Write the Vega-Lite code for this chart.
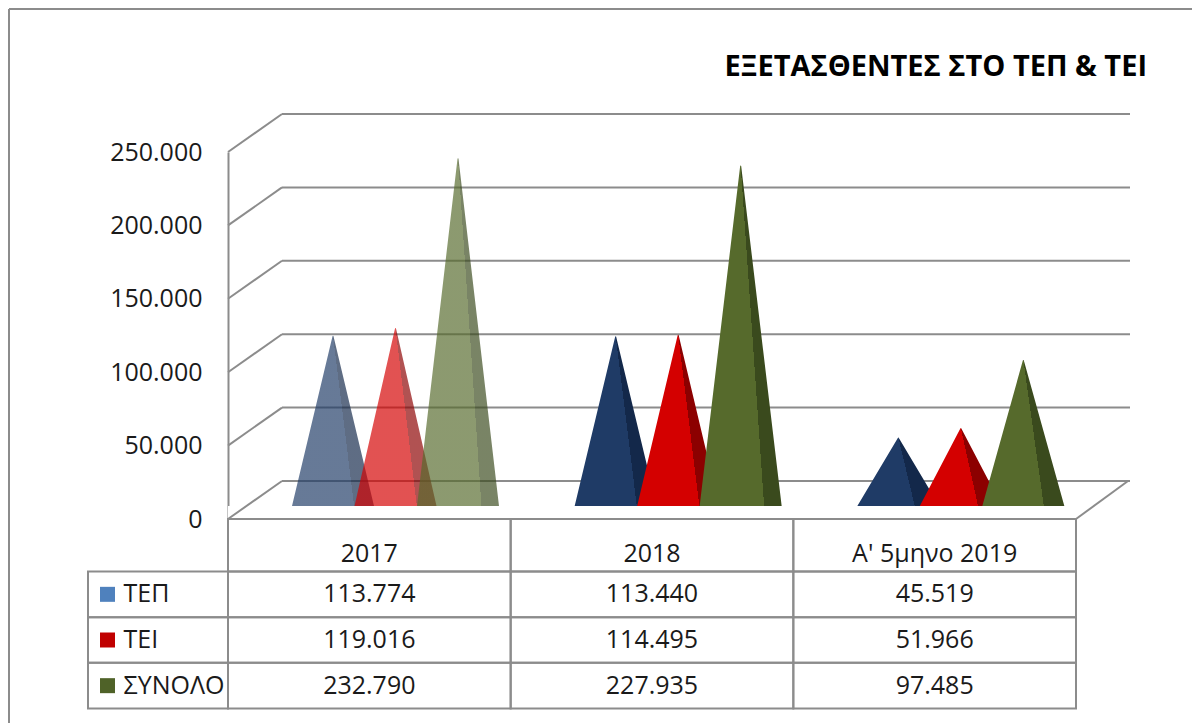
{
  "$schema": "https://vega.github.io/schema/vega-lite/v6.json",
  "width": 1183,
  "height": 714,
  "autosize": {"type": "none"},
  "padding": {"left": 9, "top": 9, "right": 0, "bottom": 0},
  "background": "white",
  "title": {"text": "ΕΞΕΤΑΣΘΕΝΤΕΣ ΣΤΟ ΤΕΠ & ΤΕΙ", "anchor": "end", "frame": "group", "orient": "top", "offset": 0, "baseline": "middle", "dx": -45, "dy": 88, "fontSize": 29, "fontWeight": "bold", "font": "Open Sans", "color": "#000000"},
  "config": {
    "view": {"stroke": null},
    "font": "Open Sans",
    "locale": {"number": {"decimal": ",", "thousands": ".", "grouping": [3], "currency": ["", " €"]}}
  },
  "datasets": {
    "exams": [
      {"year": "2017", "series": "ΤΕΠ", "value": 113774},
      {"year": "2017", "series": "ΤΕΙ", "value": 119016},
      {"year": "2017", "series": "ΣΥΝΟΛΟ", "value": 232790},
      {"year": "2018", "series": "ΤΕΠ", "value": 113440},
      {"year": "2018", "series": "ΤΕΙ", "value": 114495},
      {"year": "2018", "series": "ΣΥΝΟΛΟ", "value": 227935},
      {"year": "Α' 5μηνο 2019", "series": "ΤΕΠ", "value": 45519},
      {"year": "Α' 5μηνο 2019", "series": "ΤΕΙ", "value": 51966},
      {"year": "Α' 5μηνο 2019", "series": "ΣΥΝΟΛΟ", "value": 97485}
    ],
    "ticks": [{"tick": 0}, {"tick": 50000}, {"tick": 100000}, {"tick": 150000}, {"tick": 200000}, {"tick": 250000}]
  },
  "layer": [
    {
      "data": {"values": [{}]},
      "layer": [
        {"mark": {"type": "rule", "color": "#8c8c8c", "strokeWidth": 2}, "encoding": {"x": {"value": 0}, "x2": {"value": 1183}, "y": {"value": 0}}},
        {"mark": {"type": "rule", "color": "#8c8c8c", "strokeWidth": 2}, "encoding": {"x": {"value": 0}, "y": {"value": 0}, "y2": {"value": 714}}}
      ]
    },
    {
      "data": {"name": "ticks"},
      "mark": {"type": "rule", "color": "#8c8c8c", "strokeWidth": 2, "yOffset": -38},
      "encoding": {
        "x": {"value": 273},
        "x2": {"value": 1121},
        "y": {"field": "tick", "type": "quantitative", "scale": {"domain": [0, 250000], "range": [510, 143], "nice": false, "zero": false}, "axis": null}
      }
    },
    {
      "data": {"name": "exams"},
      "transform": [
        {"stack": "value", "groupby": ["year", "series"], "as": ["v0", "v1"]},
        {"fold": ["v0", "v1"], "as": ["end", "v"]}
      ],
      "layer": [
        {
          "transform": [{"filter": "datum.series === 'ΤΕΠ'"}],
          "mark": {"type": "trail", "fill": {"gradient": "linear", "x1": 0.1, "y1": 0.128, "x2": 0.9, "y2": -0.128, "stops": [{"offset": 0, "color": "#1F3B66"}, {"offset": 0.5, "color": "#1F3B66"}, {"offset": 0.5, "color": "#13284A"}, {"offset": 1, "color": "#13284A"}]}, "strokeWidth": 0},
          "encoding": {
            "x": {"field": "year", "type": "nominal", "scale": {"type": "band", "domain": ["2017", "2018", "Α' 5μηνο 2019"], "range": [219, 1067], "paddingInner": 0, "paddingOuter": 0}, "axis": null},
            "xOffset": {"field": "series", "type": "nominal", "scale": {"type": "point", "domain": ["ΤΕΠ", "ΤΕΙ", "ΣΥΝΟΛΟ"], "range": [105, 230], "padding": 0}},
            "y": {"field": "v", "type": "quantitative", "scale": {"domain": [0, 250000], "range": [497, 124], "nice": false, "zero": false}, "axis": null},
            "size": {"condition": {"test": "datum.end === 'v0'", "value": 82}, "value": 0},
            "detail": {"field": "year"},
            "order": {"field": "end", "type": "ordinal"},
            "opacity": {"condition": {"test": "datum.year === '2017'", "value": 0.68}, "value": 1}
          }
        },
        {
          "transform": [{"filter": "datum.series === 'ΤΕΙ'"}],
          "mark": {"type": "trail", "fill": {"gradient": "linear", "x1": 0.1, "y1": 0.128, "x2": 0.9, "y2": -0.128, "stops": [{"offset": 0, "color": "#D40000"}, {"offset": 0.5, "color": "#D40000"}, {"offset": 0.5, "color": "#8C0000"}, {"offset": 1, "color": "#8C0000"}]}, "strokeWidth": 0},
          "encoding": {
            "x": {"field": "year", "type": "nominal"},
            "xOffset": {"field": "series", "type": "nominal"},
            "y": {"field": "v", "type": "quantitative"},
            "size": {"condition": {"test": "datum.end === 'v0'", "value": 82}, "value": 0},
            "detail": {"field": "year"},
            "order": {"field": "end", "type": "ordinal"},
            "opacity": {"condition": {"test": "datum.year === '2017'", "value": 0.68}, "value": 1}
          }
        },
        {
          "transform": [{"filter": "datum.series === 'ΣΥΝΟΛΟ'"}],
          "mark": {"type": "trail", "fill": {"gradient": "linear", "x1": 0.1, "y1": 0.128, "x2": 0.9, "y2": -0.128, "stops": [{"offset": 0, "color": "#566A2C"}, {"offset": 0.5, "color": "#566A2C"}, {"offset": 0.5, "color": "#3A4A1D"}, {"offset": 1, "color": "#3A4A1D"}]}, "strokeWidth": 0},
          "encoding": {
            "x": {"field": "year", "type": "nominal"},
            "xOffset": {"field": "series", "type": "nominal"},
            "y": {"field": "v", "type": "quantitative"},
            "size": {"condition": {"test": "datum.end === 'v0'", "value": 82}, "value": 0},
            "detail": {"field": "year"},
            "order": {"field": "end", "type": "ordinal"},
            "opacity": {"condition": {"test": "datum.year === '2017'", "value": 0.68}, "value": 1}
          }
        }
      ]
    },
    {
      "data": {"name": "exams"},
      "transform": [{"aggregate": [], "groupby": ["year"]}],
      "mark": {"type": "rect", "color": "white", "y2Offset": 53},
      "encoding": {
        "x": {"field": "year", "type": "nominal"},
        "y": {"datum": 0, "type": "quantitative", "scale": {"domain": [0, 250000], "range": [497, 124], "nice": false, "zero": false}, "axis": null},
        "y2": {"datum": 0}
      }
    },
    {
      "layer": [
        {
          "data": {"name": "ticks"},
          "mark": {"type": "rule", "color": "#8c8c8c", "strokeWidth": 2, "y2Offset": -38},
          "encoding": {
            "x": {"value": 219},
            "x2": {"value": 273},
            "y": {"field": "tick", "type": "quantitative", "scale": {"domain": [0, 250000], "range": [510, 143], "nice": false, "zero": false},
              "axis": {"orient": "left", "offset": -219, "title": null, "ticks": false, "tickSize": 0, "labelPadding": 26, "labelFontSize": 25, "labelFont": "Open Sans", "labelColor": "#1a1a1a", "domain": true, "domainColor": "#8c8c8c", "domainWidth": 2, "grid": false, "values": [0, 50000, 100000, 150000, 200000, 250000], "format": ",d"}},
            "y2": {"field": "tick"}
          }
        },
        {
          "data": {"values": [{}]},
          "mark": {"type": "rule", "color": "#8c8c8c", "strokeWidth": 2, "y2Offset": -38},
          "encoding": {
            "x": {"value": 1067},
            "x2": {"value": 1119},
            "y": {"datum": 0, "type": "quantitative"},
            "y2": {"datum": 0}
          }
        },
        {
          "data": {"name": "exams"},
          "transform": [{"aggregate": [], "groupby": ["year"]}],
          "mark": {"type": "rect", "filled": false, "color": "#8c8c8c", "strokeWidth": 2, "y2Offset": 52.5},
          "encoding": {
            "x": {"field": "year", "type": "nominal"},
            "y": {"datum": 0, "type": "quantitative"},
            "y2": {"datum": 0}
          }
        },
        {
          "data": {"name": "exams"},
          "transform": [{"aggregate": [], "groupby": ["year"]}],
          "mark": {"type": "text", "fontSize": 25, "font": "Open Sans", "color": "#1a1a1a", "baseline": "middle", "yOffset": 35},
          "encoding": {
            "x": {"field": "year", "type": "nominal"},
            "y": {"datum": 0, "type": "quantitative"},
            "text": {"field": "year"}
          }
        }
      ]
    },
    {
      "data": {"name": "exams"},
      "layer": [
        {
          "mark": {"type": "rect", "filled": false, "color": "#8c8c8c", "strokeWidth": 2},
          "encoding": {
            "x": {"field": "year", "type": "nominal"},
            "y": {"field": "series", "type": "nominal", "scale": {"type": "band", "domain": ["ΤΕΠ", "ΤΕΙ", "ΣΥΝΟΛΟ"], "range": [562.5, 699.5], "paddingInner": 0, "paddingOuter": 0},
              "axis": {"orient": "left", "offset": -79, "title": null, "ticks": false, "tickSize": 0, "domain": false, "labelAlign": "left", "labelPadding": -35, "labelFontSize": 25, "labelFont": "Open Sans", "labelColor": "#1a1a1a", "labelBaseline": "middle"}}
          }
        },
        {
          "transform": [{"aggregate": [], "groupby": ["series"]}],
          "mark": {"type": "rect", "filled": false, "color": "#8c8c8c", "strokeWidth": 2},
          "encoding": {
            "x": {"value": 79},
            "x2": {"value": 219},
            "y": {"field": "series", "type": "nominal"}
          }
        },
        {
          "mark": {"type": "text", "fontSize": 25, "font": "Open Sans", "color": "#1a1a1a", "baseline": "middle"},
          "encoding": {
            "x": {"field": "year", "type": "nominal"},
            "y": {"field": "series", "type": "nominal"},
            "text": {"field": "value", "type": "quantitative", "format": ",d"}
          }
        },
        {
          "transform": [{"aggregate": [], "groupby": ["series"]}],
          "mark": {"type": "point", "shape": "square", "filled": true, "size": 225, "opacity": 1},
          "encoding": {
            "x": {"value": 98.5},
            "y": {"field": "series", "type": "nominal"},
            "color": {"field": "series", "type": "nominal", "scale": {"domain": ["ΤΕΠ", "ΤΕΙ", "ΣΥΝΟΛΟ"], "range": ["#4F81BD", "#C00000", "#4F6228"]}, "legend": null}
          }
        }
      ]
    }
  ],
  "resolve": {"scale": {"y": "independent", "xOffset": "independent"}}
}
